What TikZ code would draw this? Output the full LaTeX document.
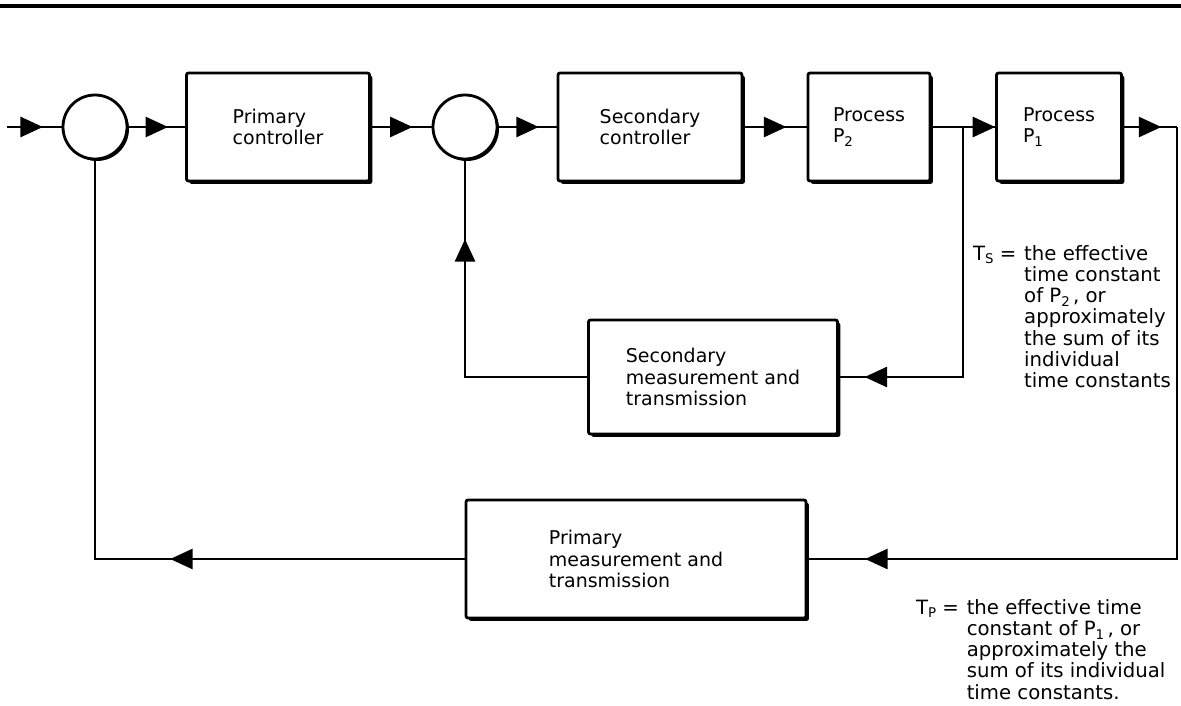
\documentclass[tikz,border=0pt]{standalone}
\usepackage{fontspec}
\setmainfont{DejaVu Sans}
\usetikzlibrary{positioning,shadows,decorations.markings}

\newcommand\lowsub[1]{\raisebox{-0.35ex}{\fontsize{9.5}{9.5}\selectfont #1}}

\begin{document}
\begin{tikzpicture}[
    x=0.025cm, y=-0.025cm,
    line width=1.5pt,
    box/.style={rectangle, draw, line width=2pt, rounded corners=1.5pt, fill=white, align=left,
        drop shadow={shadow xshift=2pt, shadow yshift=-2pt, fill=black, opacity=1},
        font=\fontsize{13.5}{15.3}\selectfont},
    sum/.style={circle, draw, line width=2pt, fill=white, minimum size=1.6cm, inner sep=0pt,
        drop shadow={shadow xshift=1.4pt, shadow yshift=-1.4pt, fill=black, opacity=1}},
    flow/.style={postaction={decorate}, decoration={markings,
        mark=at position #1 with {\fill (-0.28cm,-0.26cm) -- (0.28cm,0) -- (-0.28cm,0.26cm) -- cycle;}}},
    flow/.default=0.5,
    note/.style={anchor=north west, align=left, inner sep=0pt, font=\fontsize{14}{15}\selectfont}
]
    \useasboundingbox (0,0) rectangle (1181,705);
    \draw[line width=2.8pt] (0,6) -- (1181,6);

    % forward path
    \coordinate (in) at (7,127);
    \node[sum] (c1) at (95,127) {};
    \node[box, minimum width=4.575cm, minimum height=2.7cm] (pc) at (278,127) {Primary\\controller};
    \node[sum] (c2) at (465,127) {};
    \node[box, minimum width=4.6cm, minimum height=2.7cm] (sc) at (650,127) {Secondary\\controller};
    \node[box, minimum width=3.05cm, minimum height=2.7cm] (p2) at (869,127) {Process\\P\lowsub{2}};
    \node[box, minimum width=3.125cm, minimum height=2.7cm] (p1) at (1059,127) {Process\\P\lowsub{1}};
    \coordinate (br) at (963,127);
    \coordinate (rc) at (1177,127);

    % feedback blocks
    \node[box, minimum width=6.225cm, minimum height=2.85cm] (sm) at (713,377) {Secondary\\measurement and\\transmission};
    \node[box, minimum width=8.5cm, minimum height=2.95cm] (pm) at (636,559) {Primary\\measurement and\\transmission};

    \draw[flow=0.45] (in) -- (c1);
    \draw[flow] (c1) -- (pc);
    \draw[flow] (pc) -- (c2);
    \draw[flow] (c2) -- (sc);
    \draw[flow] (sc) -- (p2);
    \draw[flow=-0.28cm] (p2) -- (p1);
    \draw[flow] (p1) -- (rc);
    \draw[flow=-0.925cm] (br) |- (sm);
    \draw[flow=-2.25cm] (sm) -| (c2);
    \draw[flow=-1.725cm] (rc) |- (pm);
    \draw[flow=7.075cm] (pm) -| (c1);

    % time constants
    \node[note] (ts) at (972,244) {\begin{tabular}{@{}l@{\hspace{0.4em}}l@{}}
        T\lowsub{S} = & the effective\\
        & time constant\\
        & of P\lowsub{2}\,, or\\
        & approximately\\
        & the sum of its\\
        & individual\\
        & time constants
    \end{tabular}};
    \node[note] (tp) at (915,598) {\begin{tabular}{@{}l@{\hspace{0.4em}}l@{}}
        T\lowsub{P} = & the effective time\\
        & constant of P\lowsub{1}\,, or\\
        & approximately the\\
        & sum of its individual\\
        & time constants.
    \end{tabular}};
\end{tikzpicture}
\end{document}
